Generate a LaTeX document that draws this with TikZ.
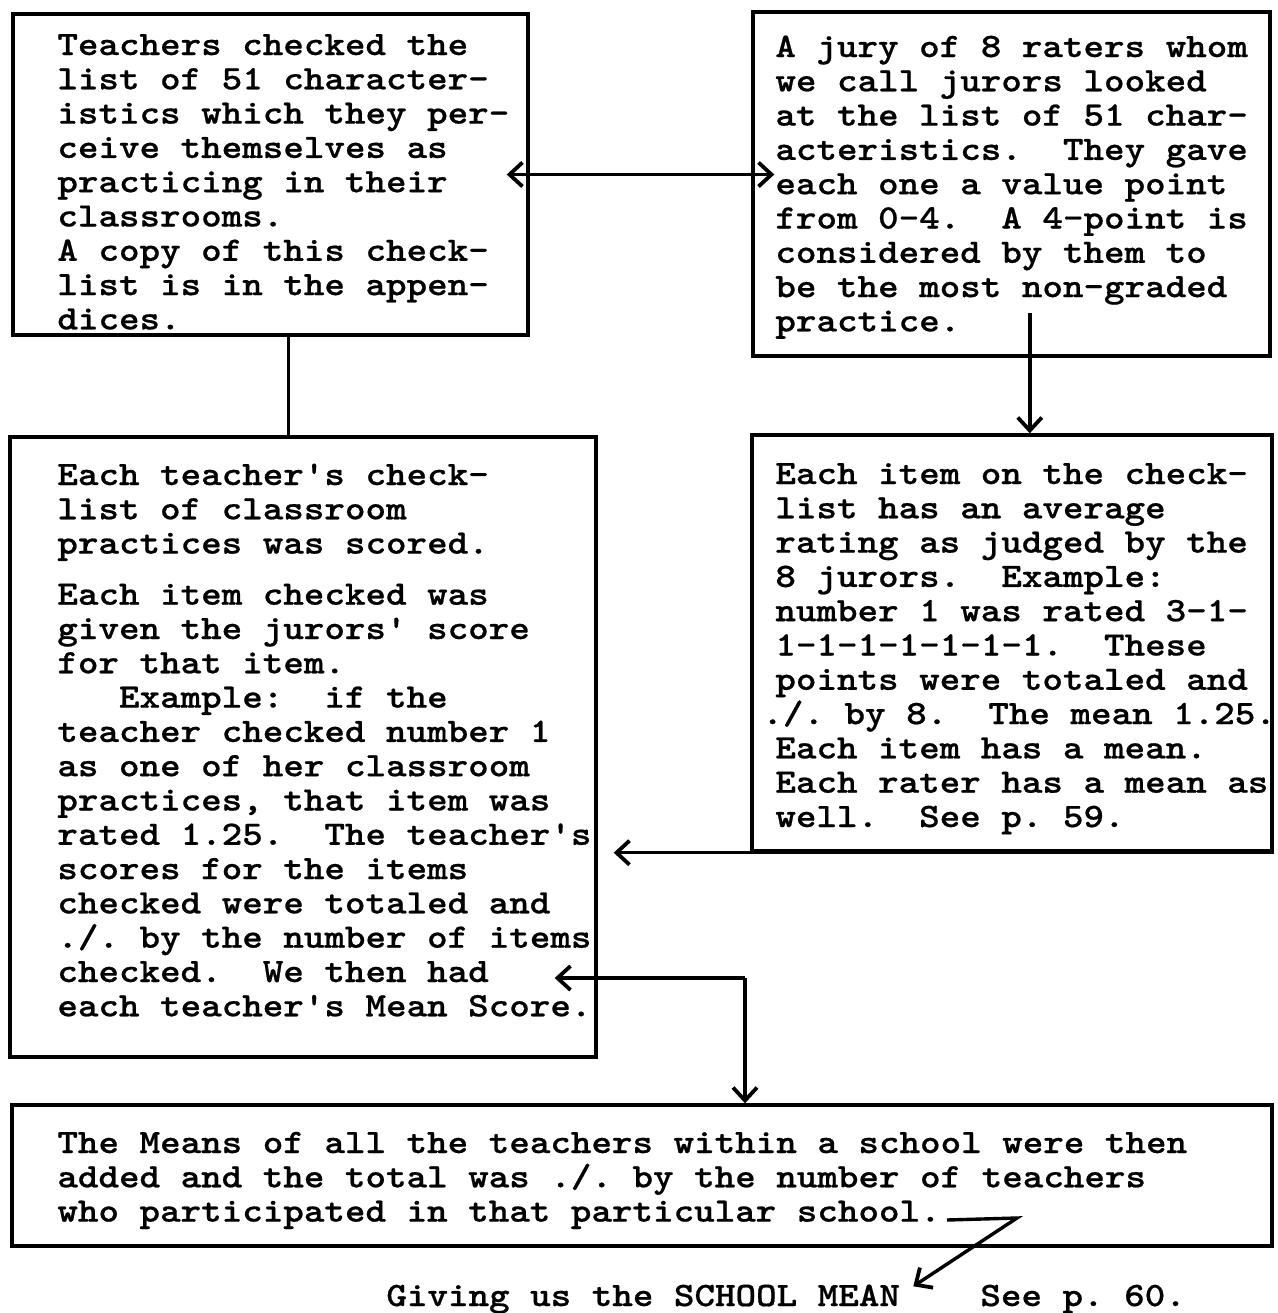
\documentclass[tikz,border=0pt]{standalone}
\usepackage{fontspec}
\newfontfamily\typewriter{lmmonolt10-bold.otf}[FakeStretch=1.144,FakeBold=0.6]
\usetikzlibrary{arrows.meta,fit,calc}
\newcommand\typeface{\typewriter\fontsize{17.1pt}{17.15pt}\selectfont\frenchspacing}
\newcommand\lines[1]{\parbox[t]{600pt}{#1}}
\tikzset{
  x=0.5pt, y=-0.5pt,
  box/.style={draw, line width=1.7pt, inner sep=0pt},
  copy/.style={anchor=base west, inner sep=0pt, font=\typeface},
  link/.style={line width=1.7pt},
  flow/.style={link, -{Straight Barb[length=6.5pt,width=12pt,line width=1.9pt]}},
  twoway/.style={link, {Straight Barb[length=6.5pt,width=12pt,line width=1.9pt]}-{Straight Barb[length=6.5pt,width=12pt,line width=1.9pt]}},
}
\begin{document}
\begin{tikzpicture}
\useasboundingbox (0,0) rectangle (1278,1313);

% frames
\node[box, fit={(13,14) (528,335)}] (A) {};
\node[box, fit={(753,12) (1270,356)}] (B) {};
\node[box, fit={(10,437) (596,1057)}] (C) {};
\node[box, fit={(752,435) (1272,851)}] (D) {};
\node[box, fit={(12,1105) (1272,1246)}] (E) {};

% texts
\node[copy] (tA) at (57,55) {\lines{%
Teachers checked the\\
list of 51 character-\\
istics which they per-\\
ceive themselves as\\
practicing in their\\
classrooms.\\
A copy of this check-\\
list is in the appen-\\
dices.}};

\node[copy] (tB) at (775,57) {\lines{%
A jury of 8 raters whom\\
we call jurors looked\\
at the list of 51 char-\\
acteristics.\ \ They gave\\
each one a value point\\
from 0-4.\ \ A 4-point is\\
considered by them to\\
be the most non-graded\\
practice.}};

\node[copy] (tC) at (57,485) {\lines{%
Each teacher's check-\\
list of classroom\\
practices was scored.\\[8.4pt]
Each item checked was\\
given the jurors' score\\
for that item.\\
\hphantom{xxx}Example:\ \ if the\\
teacher checked number 1\\
as one of her classroom\\
practices, that item was\\
rated 1.25.\ \ The teacher's\\
scores for the items\\
checked were totaled and\\
./. by the number of items\\
checked.\ \ We then had\\
each teacher's Mean Score.}};

\node[copy] (tD) at (775,484) {\lines{%
Each item on the check-\\
list has an average\\
rating as judged by the\\
8 jurors.\ \ Example:\\
number 1 was rated 3-1-\\
1-1-1-1-1-1-1.\ \ These\\
points were totaled and\\
\hspace*{-6.5pt}./. by 8.\ \ The mean 1.25.\\
Each item has a mean.\\
Each rater has a mean as\\
well.\ \ See p. 59.}};

\node[copy] (tE) at (57,1153) {\lines{%
The Means of all the teachers within a school were then\\
added and the total was ./. by the number of teachers\\
who participated in that particular school.}};

\node[copy] (mean) at (386,1306) {Giving us the SCHOOL MEAN};
\node[copy] (page) at (980,1306) {See p. 60.};

% connectors
\draw[twoway] ($(A.east)+(-23,0)$) -- ($(B.west |- A.east)+(23,0)$);
\coordinate (a1) at ($(A.south west)!0.535!(A.south east)$);
\draw[link] (a1) -- (a1 |- C.north);
\coordinate (d1) at ($(D.north west)!0.534!(D.north east)$);
\draw[flow] ($(d1)+(0,-120)$) -- (d1);
\draw[flow] (D.south east) -- ($(C.east |- D.south)+(16,0)$);
\coordinate (k) at (745,978);
\draw[flow] (k) -- ($(C.east |- k)+(-43,0)$);
\draw[flow] (k) -- (k |- E.north);
\coordinate (m1) at (947,1220);
\coordinate (m2) at (1017,1218);
\draw[flow] (m1) -- (m2) -- ($(mean.north east)+(13,2)$);
\end{tikzpicture}
\end{document}
